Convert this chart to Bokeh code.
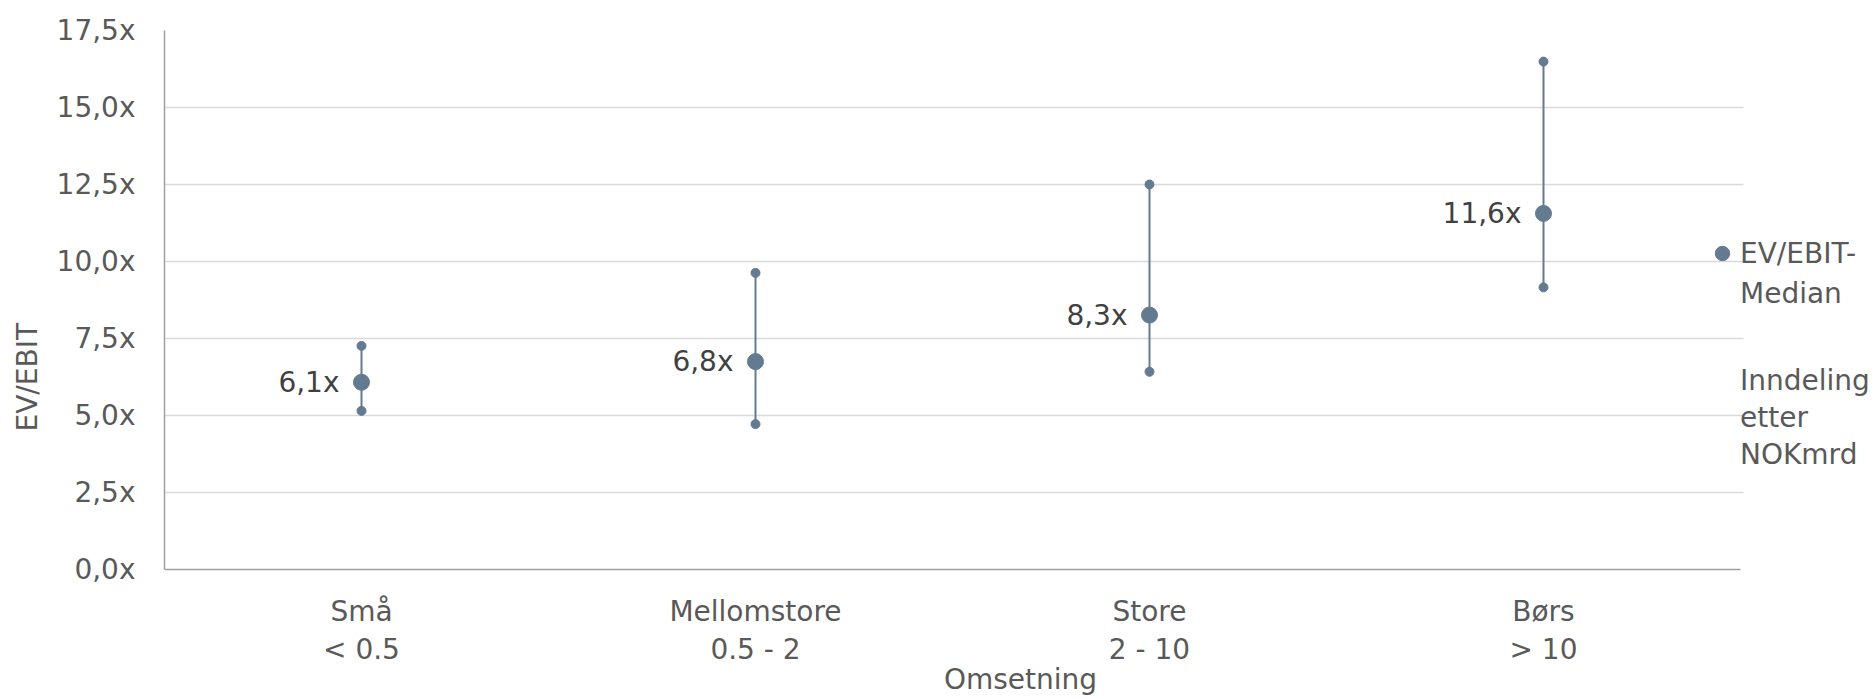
from bokeh.plotting import figure
from bokeh.models import (ColumnDataSource, Range1d, FixedTicker, LabelSet,
                          Legend, LegendItem, Title)
from bokeh.embed import file_html
from bokeh.resources import INLINE
from bokeh.core.properties import value

# ---- data ----
categories = ["Små\n< 0.5", "Mellomstore\n0.5 - 2", "Store\n2 - 10", "Børs\n> 10"]
median_vals = [6.08, 6.75, 8.26, 11.56]
low_vals = [5.15, 4.72, 6.42, 9.16]
high_vals = [7.26, 9.63, 12.50, 16.49]
median_labels = ["6,1x", "6,8x", "8,3x", "11,6x"]
y_ticks = [0, 2.5, 5, 7.5, 10, 12.5, 15, 17.5]
y_tick_labels = ["0,0x", "2,5x", "5,0x", "7,5x", "10,0x", "12,5x", "15,0x", "17,5x"]
legend_median_lines = ["EV/EBIT-", "Median"]
legend_note_lines = ["Inndeling", "etter", "NOKmrd"]

FONT = "DejaVu Sans"
COL = "#637a91"
TXT = "#595959"

xpos = list(range(len(categories)))
src = ColumnDataSource(dict(x=xpos, med=median_vals, low=low_vals,
                            high=high_vals, lab=median_labels))

# frame spans 164..1876 px; category slots are 394 px wide, the extra room on the right holds the legend
p = figure(width=1876, height=699, x_range=Range1d(-0.5, 3.5 + 136 / 394),
           y_range=Range1d(0, 17.5), output_backend="svg", toolbar_location=None,
           min_border_left=164, min_border_right=0, min_border_top=30,
           min_border_bottom=129)
p.outline_line_color = None
p.background_fill_color = "white"
p.border_fill_color = "white"

# range lines and markers
p.segment(x0="x", y0="low", x1="x", y1="high", source=src, line_color=COL, line_width=2)
p.scatter(x="x", y="low", source=src, size=9, color=COL)
p.scatter(x="x", y="high", source=src, size=9, color=COL)
med_r = p.scatter(x="x", y="med", source=src, size=16, color=COL)
dummy = p.scatter(x=[], y=[], size=0, fill_alpha=0, line_alpha=0)

p.add_layout(LabelSet(x="x", y="med", text="lab", source=src, x_offset=-22,
                      text_align="right", text_baseline="middle",
                      text_font=value(FONT), text_font_size="28px", text_color="#404040"))

# y axis
p.yaxis.ticker = FixedTicker(ticks=y_ticks)
p.yaxis.major_label_overrides = {t: l for t, l in zip(y_ticks, y_tick_labels)}
p.yaxis.major_tick_out = 0
p.yaxis.major_tick_in = 0
p.yaxis.minor_tick_out = 0
p.yaxis.minor_tick_in = 0
p.yaxis.major_label_standoff = 29
p.yaxis.axis_line_color = "#a0a0a0"
p.yaxis.axis_line_width = 1.5
p.yaxis.major_label_text_font = FONT
p.yaxis.major_label_text_font_size = "28px"
p.yaxis.major_label_text_color = TXT

# x axis
p.xaxis.ticker = FixedTicker(ticks=xpos)
p.xaxis.major_label_overrides = {i: c for i, c in zip(xpos, categories)}
p.xaxis.bounds = (-0.5, len(categories) - 0.5)
p.xaxis.major_tick_out = 0
p.xaxis.major_tick_in = 0
p.xaxis.minor_tick_out = 0
p.xaxis.minor_tick_in = 0
p.xaxis.major_label_standoff = 25
p.xaxis.axis_line_color = "#a0a0a0"
p.xaxis.axis_line_width = 1.5
p.xaxis.major_label_text_font = FONT
p.xaxis.major_label_text_font_size = "28px"
p.xaxis.major_label_text_color = TXT
p.xaxis.major_label_text_line_height = 1.17
p.xaxis.axis_label = "Omsetning"
p.xaxis.axis_label_text_font = FONT
p.xaxis.axis_label_text_font_size = "28px"
p.xaxis.axis_label_text_font_style = "normal"
p.xaxis.axis_label_text_color = TXT
p.xaxis.axis_label_standoff = -6

p.xgrid.grid_line_color = None
p.ygrid.grid_line_color = "#d9d9d9"
p.ygrid.grid_line_width = 1.5
g = p.ygrid[0]
if "cross_bounds" in g.properties():
    g.cross_bounds = (-0.5, len(categories) - 0.5 + 3 / 394)

# y axis title, sitting below the vertical centre as in the original
p.add_layout(Title(text="EV/EBIT", align="left", offset=138, vertical_align="middle",
                   text_font=FONT, text_font_size="28px", text_font_style="normal",
                   text_color=TXT, standoff=18), "left")

# legends
leg_common = dict(padding=0, margin=0, spacing=0, glyph_width=36, label_standoff=0,
                  border_line_color=None, background_fill_alpha=0,
                  label_text_font=FONT, label_text_font_size="28px", label_text_color=TXT)
leg1 = Legend(items=[LegendItem(label=legend_median_lines[0], renderers=[med_r]),
                     LegendItem(label=legend_median_lines[1], renderers=[dummy])],
              location=(1540, 256), glyph_height=40, label_height=40, **leg_common)
leg2 = Legend(items=[LegendItem(label=t, renderers=[dummy]) for t in legend_note_lines],
              location=(1540, 96), glyph_height=37, label_height=37, **leg_common)
p.add_layout(leg1, "center")
p.add_layout(leg2, "center")

open("out.html", "w").write(file_html(p, INLINE))
